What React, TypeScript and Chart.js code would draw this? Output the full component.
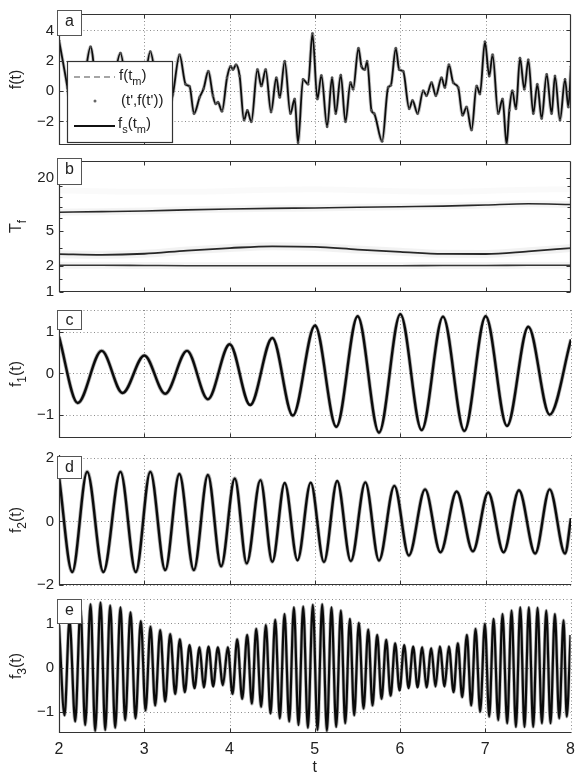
import React, { useEffect, useRef } from "react";
import { Chart, registerables } from "chart.js";
Chart.register(...registerables);

const FONT = '"Liberation Sans", Arial, Helvetica, sans-serif';
Chart.defaults.font.family = FONT;

// ---------- shared x axis ----------
const X_TICKS = [2, 3, 4, 5, 6, 7, 8];

// ---------- panel a : f(t) ----------
const A_T = [2.0, 2.1, 2.19, 2.3, 2.37, 2.45, 2.55, 2.64, 2.72, 2.8, 2.9, 3.0, 3.07, 3.15, 3.25,
  3.335, 3.413, 3.484, 3.531, 3.582, 3.648, 3.695, 3.75, 3.804, 3.836, 3.863, 3.91, 3.969, 4.012,
  4.039, 4.074, 4.117, 4.168, 4.207, 4.254, 4.325, 4.371, 4.422, 4.485, 4.547, 4.587, 4.645, 4.712,
  4.762, 4.801, 4.86, 4.919, 4.97, 5.028, 5.075, 5.142, 5.2, 5.243, 5.302, 5.357, 5.416, 5.447,
  5.509, 5.545, 5.584, 5.611, 5.662, 5.693, 5.787, 5.857, 5.889, 5.947, 5.986, 6.033, 6.104, 6.143,
  6.202, 6.268, 6.307, 6.366, 6.416, 6.483, 6.522, 6.569, 6.62, 6.678, 6.729, 6.776, 6.835, 6.894,
  6.933, 6.991, 7.042, 7.081, 7.147, 7.198, 7.245, 7.277, 7.312, 7.355, 7.402, 7.453, 7.5, 7.558,
  7.605, 7.656, 7.715, 7.773, 7.812, 7.871, 7.93, 7.969, 8.0];
const A_V = [3.35, 0.2, -3.2, 0.8, 2.92, -0.5, -2.2, 0.5, 2.5, -0.2, -2.1, 0.4, 2.6, 0.2, -1.8,
  -0.19, 2.39, 0.45, 0.3, -1.48, -0.41, 0.17, 1.31, -0.3, -0.84, -0.73, -1.33, 0.88, 1.63,
  1.42, 1.74, 0.99, -1.91, -1.27, -2.02, 1.42, 0.34, 1.42, -1.37, 0.88, -0.41, 1.96, -1.48,
  -0.52, -3.4, 0.77, 0.45, 3.79, -0.52, 1.03, -2.34, 0.88, -1.48, 1.05, -2.02, 0.56, 0.13,
  2.82, 1.63, 1.42, 1.96, -1.27, -1.48, -3.31, 0.24, 0.39, 2.82, 1.42, 1.31, -1.16, -0.62,
  -1.48, 0.02, -0.3, 0.56, -0.3, 0.88, 0.24, 1.74, 0.56, 0.24, -1.59, -1.05, -2.56, 0.34,
  -0.19, 3.25, 0.99, 2.39, -1.48, -0.52, -3.5, -1.27, 0.02, -1.16, 2.17, 0.13, 2.06, -1.48,
  0.45, -1.8, 1.1, -1.48, 0.99, -1.91, 0.77, -1.05, 1.63];
const A_YTICKS = [-2, 0, 2, 4];

// ---------- panel b : T_f ridges ----------
const B_T = [2, 2.5, 3, 3.5, 4, 4.5, 5, 5.5, 6, 6.5, 7, 7.5, 8];
const B_UPPER = [8.17, 8.3, 8.45, 8.7, 8.9, 9.05, 9.15, 9.3, 9.45, 9.6, 9.9, 10.2, 10.0];
const B_MIDDLE = [2.71, 2.66, 2.74, 2.98, 3.18, 3.33, 3.28, 3.06, 2.88, 2.73, 2.72, 2.92, 3.18];
const B_LOWER = [2.02, 2.02, 2.01, 2.0, 2.0, 2.0, 2.0, 2.0, 2.0, 2.01, 2.01, 2.02, 2.02];
const B_FAINT = [14.5, 14.2, 14.0, 14.0, 14.3, 14.8, 15.0, 14.6, 14.2, 14.0, 14.3, 14.8, 15.0];
const B_YTICKS = [1, 2, 5, 20];
const B_MINOR = [1.4, 3.2, 7, 9.3, 12.2, 16.5];

// ---------- panel c : f1 ----------
const C_T = [2.0, 2.22, 2.5, 2.745, 3.0, 3.245, 3.5, 3.745, 4.0, 4.24, 4.5, 4.74, 5.0, 5.25, 5.5,
  5.75, 6.0, 6.25, 6.5, 6.75, 7.0, 7.25, 7.5, 7.75, 8.0];
const C_V = [0.88, -0.71, 0.54, -0.47, 0.43, -0.49, 0.54, -0.62, 0.7, -0.76, 0.85, -1.01, 1.15, -1.28,
  1.37, -1.42, 1.42, -1.36, 1.36, -1.38, 1.37, -1.26, 1.12, -0.99, 0.81];
const C_YTICKS = [-1, 0, 1];

// ---------- panel d : f2 ----------
const D_T = [2.0, 2.155, 2.33, 2.52, 2.72, 2.9, 3.07, 3.245, 3.41, 3.58, 3.745, 3.9, 4.06, 4.2, 4.36,
  4.5, 4.645, 4.795, 4.95, 5.105, 5.26, 5.42, 5.59, 5.75, 5.93, 6.1, 6.29, 6.47, 6.66, 6.85, 7.03,
  7.21, 7.39, 7.58, 7.75, 7.93, 8.0];
const D_V = [1.41, -1.59, 1.56, -1.59, 1.56, -1.59, 1.56, -1.53, 1.49, -1.53, 1.46, -1.41, 1.35, -1.32,
  1.3, -1.27, 1.21, -1.22, 1.22, -1.28, 1.27, -1.25, 1.23, -1.23, 1.12, -1.07, 1.01, -0.97, 0.94,
  -0.94, 0.91, -0.97, 0.98, -1.01, 1.01, -1.01, 0.1];
const D_YTICKS = [-2, 0, 2];

// ---------- panel e : f3 ----------
const E_T = [2.0, 2.065, 2.123, 2.19, 2.252, 2.307, 2.37, 2.424, 2.487, 2.542, 2.6, 2.659, 2.721,
  2.776, 2.839, 2.897, 2.96, 3.015, 3.073, 3.128, 3.187, 3.245, 3.304, 3.363, 3.417, 3.476, 3.531,
  3.589, 3.648, 3.699, 3.754, 3.808, 3.863, 3.922, 3.98, 4.035, 4.09, 4.149, 4.207, 4.262, 4.313,
  4.371, 4.426, 4.481, 4.536, 4.59, 4.645, 4.7, 4.755, 4.809, 4.864, 4.919, 4.977, 5.032, 5.087,
  5.142, 5.196, 5.251, 5.306, 5.357, 5.412, 5.462, 5.517, 5.572, 5.627, 5.677, 5.732, 5.783, 5.838,
  5.889, 5.943, 5.994, 6.049, 6.1, 6.154, 6.205, 6.26, 6.311, 6.366, 6.416, 6.467, 6.522, 6.573,
  6.628, 6.678, 6.729, 6.784, 6.835, 6.886, 6.94, 6.995, 7.046, 7.097, 7.152, 7.202, 7.257, 7.308,
  7.359, 7.41, 7.46, 7.511, 7.562, 7.613, 7.664, 7.715, 7.765, 7.816, 7.867, 7.918, 7.955, 8.0];
const E_V = [0.96, -1.07, 1.07, -1.21, 1.32, -1.29, 1.43, -1.42, 1.47, -1.4, 1.4, -1.35, 1.36,
  -1.18, 1.25, -1.14, 1.05, -0.96, 0.93, -0.85, 0.85, -0.76, 0.76, -0.59, 0.64, -0.55, 0.51,
  -0.46, 0.46, -0.44, 0.48, -0.42, 0.46, -0.39, 0.46, -0.59, 0.64, -0.7, 0.74, -0.81, 0.88,
  -0.88, 0.96, -1.03, 1.08, -1.14, 1.21, -1.21, 1.36, -1.29, 1.38, -1.35, 1.42, -1.4, 1.43,
  -1.42, 1.36, -1.33, 1.29, -1.25, 1.1, -1.07, 1.01, -0.92, 0.86, -0.85, 0.74, -0.7, 0.63,
  -0.63, 0.55, -0.51, 0.51, -0.46, 0.48, -0.44, 0.46, -0.44, 0.44, -0.42, 0.48, -0.42, 0.48,
  -0.55, 0.55, -0.66, 0.74, -0.85, 0.88, -0.99, 0.99, -1.1, 1.1, -1.18, 1.21, -1.25, 1.29,
  -1.33, 1.36, -1.33, 1.36, -1.33, 1.35, -1.25, 1.29, -1.25, 1.21, -1.14, 1.07, -1.1, 0.74];
const E_YTICKS = [-1, 0, 1];

type Part = [string, boolean];

function pts(ts: number[], vs: number[]) {
  return ts.map((t, i) => ({ x: t, y: vs[i] }));
}

function drawRich(ctx: CanvasRenderingContext2D, parts: Part[], x: number, y: number, size: number,
  rotate: boolean, align: "center" | "left") {
  ctx.save();
  ctx.translate(x, y);
  if (rotate) ctx.rotate(-Math.PI / 2);
  const fm = `${size}px ${FONT}`;
  const fs = `${Math.round(size * 0.72)}px ${FONT}`;
  let w = 0;
  for (const [t, s] of parts) {
    ctx.font = s ? fs : fm;
    w += ctx.measureText(t).width;
  }
  let cx = align === "center" ? -w / 2 : 0;
  ctx.fillStyle = "#222";
  ctx.textBaseline = "middle";
  ctx.textAlign = "left";
  for (const [t, s] of parts) {
    ctx.font = s ? fs : fm;
    ctx.fillText(t, cx, s ? size * 0.38 : 0);
    cx += ctx.measureText(t).width;
  }
  ctx.restore();
}

interface Panel {
  key: string;
  top: number;
  bottom: number;
  pt: number;
  pb: number;
  xh: number;
  ymin: number;
  ymax: number;
  log?: boolean;
  yTicks: number[];
  minor?: number[];
  grid: boolean;
  topDotted?: boolean;
  box: boolean;
  letterBox: [number, number];
  title: Part[];
  legend?: boolean;
  xLabels?: boolean;
  datasets: any[];
}

const line = (ctx: CanvasRenderingContext2D, x1: number, y1: number, x2: number, y2: number) => {
  ctx.beginPath();
  ctx.moveTo(x1, y1);
  ctx.lineTo(x2, y2);
  ctx.stroke();
};

function makeDecor(p: Panel, ct: number) {
  return {
    id: "decor_" + p.key,
    beforeDatasetsDraw(chart: any) {
      if (!p.grid) return;
      const { ctx, chartArea: ca, scales } = chart;
      const xs = scales.x, ys = scales.y;
      ctx.save();
      ctx.strokeStyle = "rgba(0,0,0,0.45)";
      ctx.lineWidth = 1;
      ctx.setLineDash([1, 2.5]);
      const xg = p.box ? [3, 4, 5, 6, 7] : [3, 4, 5, 6, 7, 8];
      for (const v of xg) {
        const x = Math.round(xs.getPixelForValue(v)) + 0.5;
        line(ctx, x, ca.top, x, ca.bottom);
      }
      for (const v of p.yTicks) {
        const y = Math.round(ys.getPixelForValue(v)) + 0.5;
        line(ctx, ca.left, y, ca.right, y);
      }
      if (p.topDotted) {
        const y = Math.round(ca.top) + 0.5;
        line(ctx, ca.left, y, ca.right, y);
      }
      ctx.restore();
    },
    afterDatasetsDraw(chart: any) {
      const { ctx, chartArea: ca, scales } = chart;
      const xs = scales.x, ys = scales.y;
      const L = Math.round(ca.left) + 0.5, R = Math.round(ca.right) - 0.5;
      const T = Math.round(ca.top) + 0.5, B = Math.round(ca.bottom) - 0.5;
      ctx.save();
      ctx.setLineDash([]);
      ctx.strokeStyle = "#333";
      ctx.lineWidth = 1.2;
      line(ctx, L, T - 0.5, L, B + 0.5);
      line(ctx, L, B, R + 0.5, B);
      if (p.box) {
        line(ctx, L, T, R, T);
        line(ctx, R, T, R, B);
      }
      // inward tick marks
      ctx.lineWidth = 1;
      const tl = 4;
      for (const v of X_TICKS.slice(1, -1)) {
        const x = Math.round(xs.getPixelForValue(v)) + 0.5;
        line(ctx, x, B, x, B - tl);
        if (p.box) line(ctx, x, T, x, T + tl);
      }
      const yt = [...p.yTicks, ...(p.minor || [])];
      for (const v of yt) {
        const y = Math.round(ys.getPixelForValue(v)) + 0.5;
        const len = p.minor && p.minor.includes(v) ? 3 : tl;
        line(ctx, L, y, L + len, y);
        if (p.box) line(ctx, R, y, R - len, y);
      }
      // y title
      drawRich(ctx, p.title, 17, (ca.top + ca.bottom) / 2, 16, true, "center");
      // panel letter box
      const bx = 57, bw = 24;
      const by = ca.top + p.letterBox[0], bh = p.letterBox[1];
      ctx.fillStyle = "#fff";
      ctx.fillRect(bx, by, bw, bh);
      ctx.strokeStyle = "#555";
      ctx.lineWidth = 1;
      ctx.strokeRect(bx + 0.5, Math.round(by) + 0.5, bw, Math.round(bh));
      ctx.fillStyle = "#222";
      ctx.font = `16px ${FONT}`;
      ctx.textAlign = "center";
      ctx.textBaseline = "middle";
      ctx.fillText(p.key, bx + bw / 2 + 0.5, by + Math.min(bh, 22) / 2 + 1);
      // legend
      if (p.legend) {
        const lx = 67, ly = 61 - ct, lw = 105, lh = 81;
        ctx.fillStyle = "#fff";
        ctx.fillRect(lx, ly, lw, lh);
        ctx.strokeStyle = "#333";
        ctx.lineWidth = 1.2;
        ctx.strokeRect(lx + 0.5, ly + 0.5, lw, lh);
        // dashed
        ctx.strokeStyle = "#888";
        ctx.lineWidth = 1.5;
        ctx.setLineDash([6, 4]);
        line(ctx, 74, ly + 16, 115, ly + 16);
        ctx.setLineDash([]);
        drawRich(ctx, [["f(t", false], ["m", true], [")", false]], 119, ly + 15, 15, false, "left");
        // dot
        ctx.fillStyle = "#666";
        ctx.beginPath();
        ctx.arc(95, ly + 40, 1.5, 0, Math.PI * 2);
        ctx.fill();
        drawRich(ctx, [["(t',f(t'))", false]], 121, ly + 40, 15, false, "left");
        // solid
        ctx.strokeStyle = "#111";
        ctx.lineWidth = 1.8;
        line(ctx, 74, ly + 65, 115, ly + 65);
        drawRich(ctx, [["f", false], ["s", true], ["(t", false], ["m", true], [")", false]], 118, ly + 63, 15, false, "left");
      }
      if (p.xLabels) {
        drawRich(ctx, [["t", false]], (ca.left + ca.right) / 2, 768 - ct, 16, false, "center");
      }
      ctx.restore();
    },
  };
}

const fmt = (v: number) => (v < 0 ? "\u2212" + Math.abs(v) : String(v));

const lineDs = (data: any[], color: string, width: number, extra: any = {}) => ({
  data,
  borderColor: color,
  borderWidth: width,
  pointRadius: 0,
  fill: false,
  cubicInterpolationMode: "monotone",
  ...extra,
});

const PANELS: Panel[] = [
  {
    key: "a", top: 13, bottom: 147, pt: 13, pb: 12, xh: 0, ymin: -3.55, ymax: 5.08,
    yTicks: A_YTICKS, grid: true, box: true, letterBox: [-4, 25],
    title: [["f(t)", false]], legend: true,
    datasets: [
      lineDs(pts(A_T, A_V), "rgba(0,0,0,0.25)", 3.5),
      lineDs(pts(A_T, A_V), "#111", 1.8, { pointRadius: 1.3, pointBackgroundColor: "#666", pointBorderWidth: 0 }),
    ],
  },
  {
    key: "b", top: 159, bottom: 294, pt: 12, pb: 12, xh: 0, ymin: 1, ymax: 31.5, log: true,
    yTicks: B_YTICKS, minor: B_MINOR, grid: false, box: true, letterBox: [-3, 26],
    title: [["T", false], ["f", true]],
    datasets: [
      lineDs(pts(B_T, B_FAINT), "rgba(0,0,0,0.018)", 6),
      lineDs(pts(B_T, B_UPPER), "rgba(0,0,0,0.045)", 7),
      lineDs(pts(B_T, B_MIDDLE), "rgba(0,0,0,0.05)", 8),
      lineDs(pts(B_T, B_LOWER), "rgba(0,0,0,0.045)", 7),
      lineDs(pts(B_T, B_UPPER), "#2a2a2a", 1.6),
      lineDs(pts(B_T, B_MIDDLE), "#2a2a2a", 1.8),
      lineDs(pts(B_T, B_LOWER), "#3a3a3a", 1.6),
    ],
  },
  {
    key: "c", top: 308, bottom: 440, pt: 12, pb: 12, xh: 0, ymin: -1.55, ymax: 1.52,
    yTicks: C_YTICKS, grid: true, topDotted: true, box: false, letterBox: [0, 19],
    title: [["f", false], ["1", true], ["(t)", false]],
    datasets: [
      lineDs(pts(C_T, C_V), "rgba(0,0,0,0.3)", 4),
      lineDs(pts(C_T, C_V), "#111", 2.4),
    ],
  },
  {
    key: "d", top: 453, bottom: 587, pt: 12, pb: 12, xh: 0, ymin: -2, ymax: 2.09,
    yTicks: D_YTICKS, grid: true, box: false, letterBox: [1, 22],
    title: [["f", false], ["2", true], ["(t)", false]],
    datasets: [
      lineDs(pts(D_T, D_V), "rgba(0,0,0,0.3)", 4),
      lineDs(pts(D_T, D_V), "#111", 2.4),
    ],
  },
  {
    key: "e", top: 597, bottom: 733, pt: 12, pb: 0, xh: 47, ymin: -1.47, ymax: 1.55,
    yTicks: E_YTICKS, grid: true, topDotted: true, box: false, letterBox: [0, 24],
    title: [["f", false], ["3", true], ["(t)", false]], xLabels: true,
    datasets: [
      lineDs(pts(E_T, E_V), "rgba(0,0,0,0.3)", 3.6),
      lineDs(pts(E_T, E_V), "#111", 2.2),
    ],
  },
];

function geom(p: Panel) {
  const ct = p.top - p.pt;
  const ch = p.bottom - ct + p.pb + p.xh;
  return { ct, ch };
}

function buildConfig(p: Panel): any {
  const { ct } = geom(p);
  return {
    type: "line",
    data: { datasets: p.datasets },
    options: {
      responsive: false,
      maintainAspectRatio: false,
      animation: false,
      events: [],
      layout: { padding: { left: 0, right: 11, top: p.pt, bottom: p.pb } },
      plugins: { legend: { display: false }, tooltip: { enabled: false } },
      scales: {
        x: {
          type: "linear",
          min: 2,
          max: 8,
          afterBuildTicks: (s: any) => { s.ticks = X_TICKS.map((v) => ({ value: v })); },
          afterFit: (s: any) => { s.height = p.xh; },
          grid: { display: false, drawTicks: false },
          border: { display: false },
          ticks: {
            display: !!p.xLabels,
            autoSkip: false,
            maxRotation: 0,
            padding: 7,
            color: "#222",
            font: { size: 16, family: FONT },
            callback: (v: number) => String(v),
          },
        },
        y: {
          type: p.log ? "logarithmic" : "linear",
          min: p.ymin,
          max: p.ymax,
          afterBuildTicks: (s: any) => { s.ticks = p.yTicks.map((v) => ({ value: v })); },
          afterFit: (s: any) => { s.width = 59; },
          grid: { display: false, drawTicks: false },
          border: { display: false },
          ticks: {
            autoSkip: false,
            padding: 5,
            color: "#222",
            font: { size: 15, family: FONT },
            callback: (v: number) => fmt(v),
          },
        },
      },
    },
    plugins: [makeDecor(p, ct)],
  };
}

export default function App() {
  const refs = useRef<(HTMLCanvasElement | null)[]>([]);
  useEffect(() => {
    const charts = PANELS.map((p, i) => new Chart(refs.current[i] as HTMLCanvasElement, buildConfig(p)));
    return () => charts.forEach((c) => c.destroy());
  }, []);
  return (
    <div style={{ position: "absolute", left: 0, top: 0, width: 582, height: 780, background: "#fff", overflow: "hidden" }}>
      {PANELS.map((p, i) => {
        const { ct, ch } = geom(p);
        return (
          <canvas
            key={p.key}
            ref={(el) => { refs.current[i] = el; }}
            width={582}
            height={ch}
            style={{ position: "absolute", left: 0, top: ct, width: 582, height: ch }}
          />
        );
      })}
    </div>
  );
}
